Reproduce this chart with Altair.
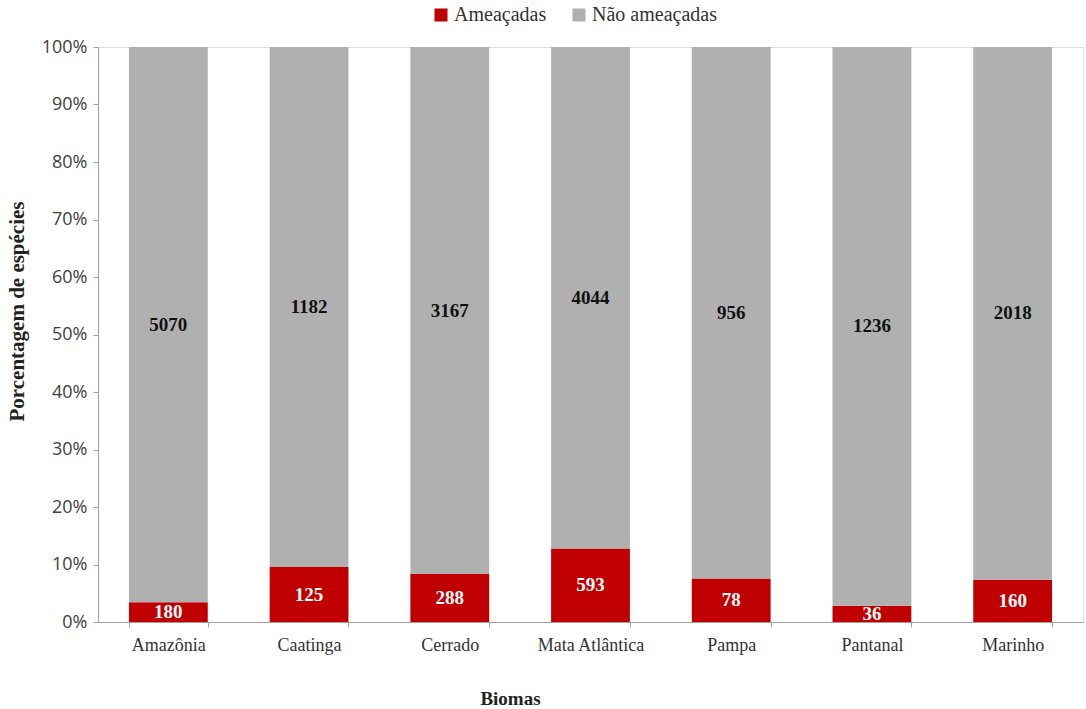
import altair as alt
import pandas as pd

biomas = ["Amazônia", "Caatinga", "Cerrado", "Mata Atlântica", "Pampa", "Pantanal", "Marinho"]
ameacadas = [180, 125, 288, 593, 78, 36, 160]
nao_ameacadas = [5070, 1182, 3167, 4044, 956, 1236, 2018]
status_names = ["Ameaçadas", "Não ameaçadas"]
colors = ["#C00000", "#B0B0B0"]

rows = []
for b, a, n in zip(biomas, ameacadas, nao_ameacadas):
    rows.append({"bioma": b, "status": status_names[0], "ord": 0, "count": a})
    rows.append({"bioma": b, "status": status_names[1], "ord": 1, "count": n})
df = pd.DataFrame(rows)

base = alt.Chart(df).transform_joinaggregate(
    total="sum(count)", groupby=["bioma"]
).transform_calculate(
    pct="datum.count / datum.total"
).transform_window(
    cum="sum(pct)", sort=[alt.SortField("ord")], groupby=["bioma"], frame=[None, 0]
).transform_calculate(
    start="datum.cum - datum.pct",
    mid="datum.cum - datum.pct / 2"
)

x = alt.X("bioma:N", sort=biomas, title="Biomas",
          scale=alt.Scale(paddingInner=0.44, paddingOuter=0.22),
          axis=alt.Axis(labelAngle=0, labelFont="Liberation Serif", labelFontSize=18,
                        labelColor="#333333", labelPadding=9, tickBand="extent",
                        tickSize=5, tickColor="#A0A0A0", domainColor="#A0A0A0",
                        titleFont="Liberation Serif", titleFontSize=19, titleFontWeight="bold",
                        titleColor="#222222", titleX=412, titleY=86, titleAlign="center",
                        titleBaseline="bottom"))

bars = base.mark_bar().encode(
    x=x,
    y=alt.Y("start:Q", title="Porcentagem de espécies",
            scale=alt.Scale(domain=[0, 1], nice=False),
            axis=alt.Axis(format=".0%", values=[i / 10 for i in range(11)], grid=False,
                          labelFont="Open Sans", labelFontSize=18, labelColor="#404040",
                          labelPadding=6, tickSize=5, tickColor="#A0A0A0", domainColor="#A0A0A0",
                          titleFont="Liberation Serif", titleFontSize=21, titleFontWeight="bold",
                          titleColor="#222222", titleX=-71, titleY=264, titleAngle=270,
                          titleAlign="center", titleBaseline="bottom")),
    y2="cum:Q",
    color=alt.Color("status:N", scale=alt.Scale(domain=status_names, range=colors),
                    legend=alt.Legend(title=None, orient="none", direction="horizontal",
                                      legendX=333, legendY=-42, symbolType="square",
                                      symbolSize=170,
                                      labelFont="Liberation Serif",
                                      labelFontSize=20, labelColor="#333333",
                                      columnPadding=22, symbolStrokeWidth=0,
                                      labelOffset=3)),
)

texts = base.mark_text(font="Liberation Serif", fontSize=19, fontWeight="bold").encode(
    x=alt.X("bioma:N", sort=biomas),
    y=alt.Y("mid:Q"),
    text=alt.Text("count:Q"),
    color=alt.Color("status:N", scale=alt.Scale(domain=status_names, range=["#FFFFFF", "#111111"]),
                    legend=None),
)

chart = alt.layer(bars, texts).resolve_scale(color="independent").properties(
    width=985, height=575,
    autosize=alt.AutoSizeParams(type="none"),
    padding={"left": 98, "top": 47, "right": 3, "bottom": 87},
).configure_view(stroke=None).configure_legend(
    labelFont="Liberation Serif"
).configure(background="white", font="Liberation Serif",
            style={"guide-label": {"font": "Liberation Serif"}})

chart.save("out.html", embed_options={"renderer": "svg", "actions": False})
